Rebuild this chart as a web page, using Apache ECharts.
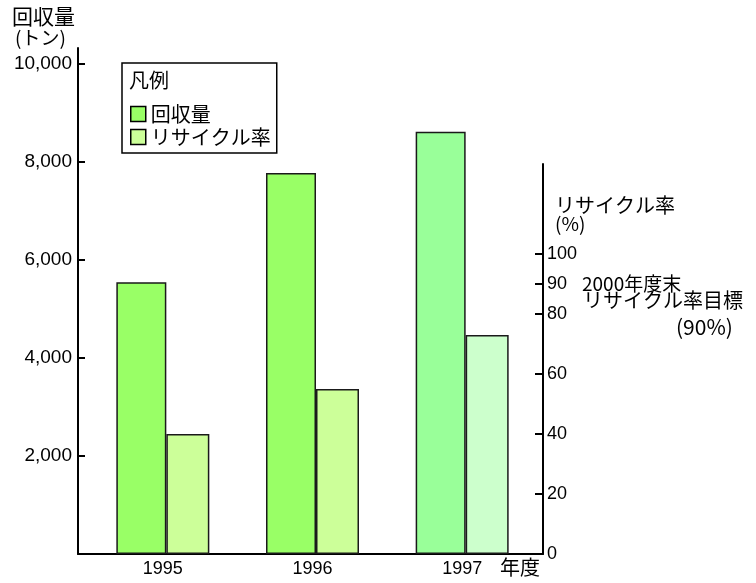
<!DOCTYPE html>
<html>
<head>
<meta charset="utf-8">
<script src="https://cdn.jsdelivr.net/npm/echarts@6/dist/echarts.min.js"></script>
<style>
  html, body { margin: 0; padding: 0; background: #fff; }
  #chart { width: 756px; height: 583px; }
</style>
</head>
<body>
<div id="chart"></div>
<script>
// 年度
const years = ['1995', '1996', '1997'];
// 回収量（トン）
const amountValues = [5550, 7780, 8620];
// リサイクル率（%）
const rateValues = [40, 55, 73];
// 目盛
const amountTicks = [2000, 4000, 6000, 8000, 10000];
const rateLabels = [0, 20, 40, 60, 80, 90, 100];
const rateTicks = [20, 40, 60, 80, 90, 100];

const NUM_FONT = '"Liberation Sans", Arial, sans-serif';
const JP_FONT = '"Noto Sans CJK JP", sans-serif';
const INK = '#000';

const chart = echarts.init(document.getElementById('chart'));

// 1997年だけ色が薄い
const amountData = amountValues.map((v, i) => i === 2 ? { value: v, itemStyle: { color: '#99FF99' } } : v);
const rateData = rateValues.map((v, i) => i === 2 ? { value: v, itemStyle: { color: '#CCFFCC' } } : v);
const empty = years.map(() => '-');

const barBorder = { borderColor: '#1a1a1a', borderWidth: 1.5 };

const option = {
    backgroundColor: '#fff',
    animation: false,
    grid: [
        { left: 88, right: 219, top: 48, bottom: 29 },   // 回収量
        { left: 88, right: 219, top: 164, bottom: 29 },  // リサイクル率
        { left: 78, right: 213, top: 48, bottom: 29 }    // 下の軸線
    ],
    xAxis: [
        {
            gridIndex: 0, type: 'category', data: years,
            axisLine: { show: false }, axisTick: { show: false },
            axisLabel: { color: INK, fontSize: 18, fontFamily: NUM_FONT, margin: 6 }
        },
        { gridIndex: 1, type: 'category', data: years, show: false },
        {
            gridIndex: 2, type: 'category', data: years,
            axisLine: { lineStyle: { color: INK, width: 2 } },
            axisTick: { show: false }, axisLabel: { show: false }
        }
    ],
    yAxis: [
        {
            gridIndex: 0, type: 'value', min: 0, max: 10330, offset: 10,
            splitLine: { show: false },
            axisLine: { show: true, lineStyle: { color: INK, width: 2 } },
            axisTick: { show: true, inside: true, length: 7, customValues: amountTicks, lineStyle: { color: INK, width: 2 } },
            axisLabel: {
                customValues: amountTicks, color: INK, fontSize: 19, fontFamily: NUM_FONT, margin: 6,
                formatter: v => v.toLocaleString('en-US')
            }
        },
        {
            gridIndex: 1, type: 'value', position: 'right', min: 0, max: 130, offset: 6,
            splitLine: { show: false },
            axisLine: { show: true, lineStyle: { color: INK, width: 2 } },
            axisTick: { show: true, inside: true, length: 8, customValues: rateTicks, lineStyle: { color: INK, width: 2 } },
            axisLabel: { customValues: rateLabels, color: INK, fontSize: 18, fontFamily: NUM_FONT, margin: 4 }
        },
        { gridIndex: 2, type: 'value', show: false }
    ],
    legend: {
        data: ['回収量', 'リサイクル率'],
        orient: 'vertical',
        left: 122, top: 63,
        padding: [41, 6, 6, 8],
        itemWidth: 15, itemHeight: 15, itemGap: 3,
        icon: 'rect',
        borderColor: '#000', borderWidth: 1.5,
        itemStyle: { borderColor: '#000', borderWidth: 1.5 },
        textStyle: { color: INK, fontSize: 20, fontFamily: JP_FONT }
    },
    graphic: [
        { type: 'text', left: 129, top: 70, style: { text: '凡例', fontSize: 20, fontFamily: JP_FONT, fill: INK } },
        { type: 'text', left: 12, top: 6, style: { text: '回収量', fontSize: 21, fontFamily: JP_FONT, fill: INK } },
        { type: 'text', left: 15, top: 28, style: { text: '(トン)', fontSize: 19, fontFamily: JP_FONT, fill: INK } },
        { type: 'text', left: 555, top: 195, style: { text: 'リサイクル率', fontSize: 20, fontFamily: JP_FONT, fill: INK } },
        { type: 'text', left: 555, top: 214, style: { text: '(%)', fontSize: 19, fontFamily: JP_FONT, fill: INK } },
        { type: 'text', left: 582, top: 274, style: { text: '2000年度末', fontSize: 19, fontFamily: JP_FONT, fill: INK } },
        { type: 'text', left: 583, top: 290, style: { text: 'リサイクル率目標', fontSize: 20, fontFamily: JP_FONT, fill: INK } },
        { type: 'text', left: 676, top: 317, style: { text: '(90%)', fontSize: 21, fontFamily: JP_FONT, fill: INK } },
        { type: 'text', left: 500, top: 557, style: { text: '年度', fontSize: 20, fontFamily: JP_FONT, fill: INK } }
    ],
    series: [
        {
            name: '回収量', type: 'bar', xAxisIndex: 0, yAxisIndex: 0,
            barWidth: 50, barGap: 0,
            itemStyle: Object.assign({ color: '#99FF66' }, barBorder),
            data: amountData
        },
        {
            name: 'pad1', type: 'bar', xAxisIndex: 0, yAxisIndex: 0,
            barWidth: 43, barGap: 0, data: empty
        },
        {
            name: 'pad2', type: 'bar', xAxisIndex: 1, yAxisIndex: 1,
            barWidth: 50, barGap: 0, data: empty
        },
        {
            name: 'リサイクル率', type: 'bar', xAxisIndex: 1, yAxisIndex: 1,
            barWidth: 43, barGap: 0,
            itemStyle: Object.assign({ color: '#CCFF99' }, barBorder),
            data: rateData
        }
    ]
};

chart.setOption(option);
</script>
</body>
</html>
